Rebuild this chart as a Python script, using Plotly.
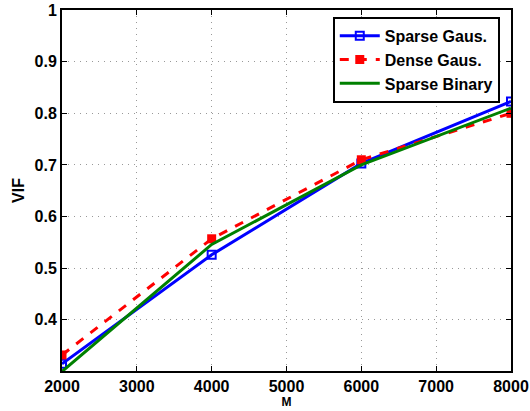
import plotly.graph_objects as go

M = [2000, 4000, 6000, 8000]
sparse_gaus = [0.315, 0.526, 0.703, 0.823]
dense_gaus = [0.332, 0.557, 0.710, 0.800]
sparse_binary = [0.300, 0.546, 0.700, 0.810]

x_ticks = [2000, 3000, 4000, 5000, 6000, 7000, 8000]
y_ticks = [0.4, 0.5, 0.6, 0.7, 0.8, 0.9, 1.0]
y_labels = ["0.4", "0.5", "0.6", "0.7", "0.8", "0.9", "1"]

FAM = "Liberation Sans, Arial, sans-serif"
font = dict(family=FAM, size=16, color="black")

fig = go.Figure()
fig.add_trace(go.Scatter(x=M, y=sparse_gaus, mode="lines+markers", name="<b>Sparse Gaus.</b>",
                         line=dict(color="#0000ff", width=3),
                         marker=dict(symbol="square-open", size=8, color="#0000ff", line=dict(width=2))))
fig.add_trace(go.Scatter(x=M, y=dense_gaus, mode="lines+markers", name="<b>Dense Gaus.</b>",
                         line=dict(color="#ff0000", width=3, dash="dash"),
                         marker=dict(symbol="square", size=9, color="#ff0000")))
fig.add_trace(go.Scatter(x=M, y=sparse_binary, mode="lines", name="<b>Sparse Binary</b>",
                         line=dict(color="#008000", width=3)))

axis_common = dict(showline=True, linecolor="black", linewidth=2, mirror="allticks",
                   ticks="inside", ticklen=5, tickcolor="black", tickwidth=1,
                   showgrid=True, gridcolor="#999999", griddash="1px,5px", gridwidth=1,
                   zeroline=False, tickfont=font, automargin=False)

fig.update_xaxes(range=[2000, 8000], tickvals=x_ticks,
                 ticktext=[f"<b>{v}</b>" for v in x_ticks],
                 title=dict(text="<b>M</b>", font=dict(family=FAM, size=12, color="black"), standoff=2),
                 **axis_common)
fig.update_yaxes(range=[0.301, 1.0], tickvals=y_ticks,
                 ticktext=[f"<b>{v}</b>" for v in y_labels],
                 title=dict(text="<b>VIF</b>", font=dict(family=FAM, size=16, color="black"), standoff=6),
                 **axis_common)

fig.update_layout(
    width=530, height=411,
    margin=dict(l=62, r=19, t=10, b=40),
    plot_bgcolor="white", paper_bgcolor="white",
    font=font,
    legend=dict(x=0.975, y=0.981, xanchor="right", yanchor="top",
                bordercolor="black", borderwidth=2, bgcolor="white",
                font=dict(family=FAM, size=16, color="black"),
                tracegroupgap=0, itemwidth=40),
    showlegend=True,
)

fig.write_html("out.html")
